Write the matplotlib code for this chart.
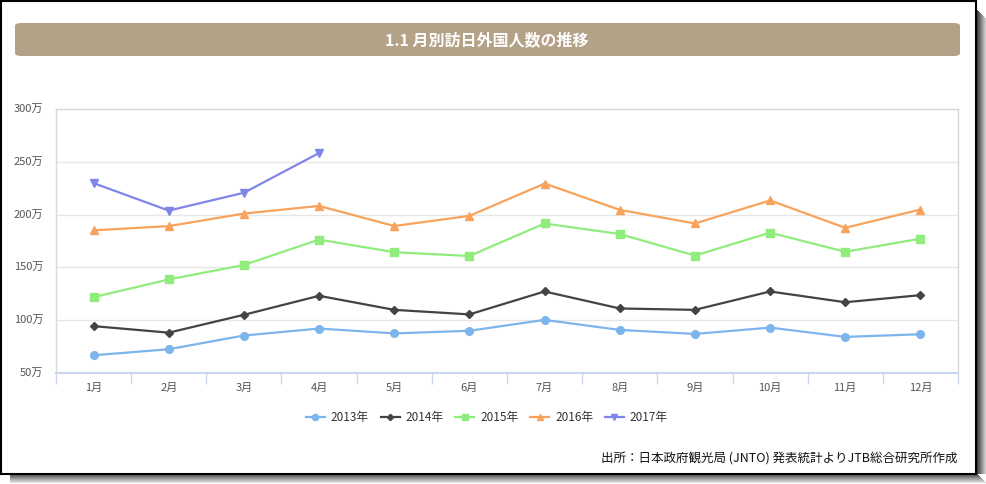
import matplotlib
matplotlib.use('Agg')
import matplotlib.pyplot as plt
from matplotlib.patches import FancyBboxPatch, Rectangle

plt.rcParams['font.family'] = ['Noto Sans CJK JP', 'DejaVu Sans']

months = ['1月', '2月', '3月', '4月', '5月', '6月', '7月', '8月', '9月', '10月', '11月', '12月']
v2013 = [66.8, 72.5, 85.5, 92.1, 87.5, 90.0, 100.3, 90.8, 87.0, 93.0, 84.2, 86.7]
v2014 = [94.4, 88.2, 105.1, 123.1, 109.8, 105.5, 127.2, 111.1, 109.8, 127.2, 117.0, 123.7]
v2015 = [121.8, 138.6, 152.3, 176.3, 164.4, 160.8, 191.6, 181.6, 161.2, 182.9, 164.8, 177.2]
v2016 = [185.1, 189.1, 201.0, 208.2, 189.2, 198.8, 229.4, 204.5, 191.6, 213.4, 187.5, 204.8]
v2017 = [229.8, 203.8, 220.7, 258.3]
yticks = [50, 100, 150, 200, 250, 300]

series = [
    ('2013年', v2013, '#7cb5ec', 'o', 5.5),
    ('2014年', v2014, '#434348', 'D', 4),
    ('2015年', v2015, '#90ed7d', 's', 5.5),
    ('2016年', v2016, '#f7a35c', '^', 6),
    ('2017年', v2017, '#8085e9', 'v', 6),
]

W, H = 987, 484
fig = plt.figure(figsize=(W / 100, H / 100), dpi=100)

# frame and drop shadow
for i in range(10):
    g = 0.25 + i * 0.07
    fig.patches.append(Rectangle((977 / W + i / W, 10 / H), 1 / W, (464 - i) / H,
                                 transform=fig.transFigure, color=(g, g, g), lw=0, zorder=-10))
    fig.patches.append(Rectangle((10 / W, (H - 474 - i) / H), (967 + i) / W, 1 / H,
                                 transform=fig.transFigure, color=(g, g, g), lw=0, zorder=-10))
fig.patches.append(Rectangle((1 / W, (H - 474) / H), 975 / W, 473 / H, transform=fig.transFigure,
                             facecolor='white', edgecolor='black', lw=1.5, zorder=-9))

# title bar
fig.patches.append(FancyBboxPatch((15 / W, (H - 56) / H), 945 / W, 33 / H,
                                  boxstyle='round,pad=0,rounding_size=0.006',
                                  transform=fig.transFigure, facecolor='#b4a288', edgecolor='none'))
fig.text(487 / W, (H - 40) / H, '1.1 月別訪日外国人数の推移', color='white', fontsize=11.5,
         fontweight='bold', ha='center', va='center')

ax = fig.add_axes([56 / W, (H - 373) / H, (958 - 56) / W, (373 - 109) / H])
ax.set_facecolor('none')
x = list(range(len(months)))
for name, vals, col, mk, ms in series:
    ax.plot(x[:len(vals)], vals, color=col, marker=mk, markersize=ms, lw=1.6, label=name, zorder=3)

ax.set_xlim(-0.5, 11.5)
ax.set_ylim(50, 300)
ax.set_yticks(yticks)
ax.set_yticklabels([f'{v}万' for v in yticks])
ax.set_xticks(x)
ax.set_xticklabels(months)
ax.set_xticks([i - 0.5 for i in range(13)], minor=True)
ax.tick_params(axis='x', which='major', length=0, pad=7, labelsize=8, labelcolor='#555555')
ax.tick_params(axis='x', which='minor', length=8, color='#ccd6eb', width=1)
ax.tick_params(axis='y', length=0, pad=9, labelsize=8, labelcolor='#555555')
for lab in ax.get_yticklabels():
    lab.set_va('center')
ax.grid(axis='y', color='#e6e6e6', lw=1)
ax.set_axisbelow(True)
for s in ['top', 'right', 'left']:
    ax.spines[s].set_color('#d8d8d8')
    ax.spines[s].set_linewidth(1)
ax.spines['bottom'].set_color('#ccd6eb')
ax.spines['bottom'].set_linewidth(1.5)

leg = fig.legend(loc='center', bbox_to_anchor=(487 / W, (H - 418) / H), ncol=5, frameon=False,
                 fontsize=8.5, handlelength=1.6, columnspacing=1.0, handletextpad=0.5, markerscale=0.8)
for t in leg.get_texts():
    t.set_color('#333333')

fig.text(958 / W, (H - 459) / H, '出所：日本政府観光局 (JNTO) 発表統計よりJTB総合研究所作成',
         fontsize=9, ha='right', va='center', color='#111111')

fig.savefig('out.png', dpi=100)
